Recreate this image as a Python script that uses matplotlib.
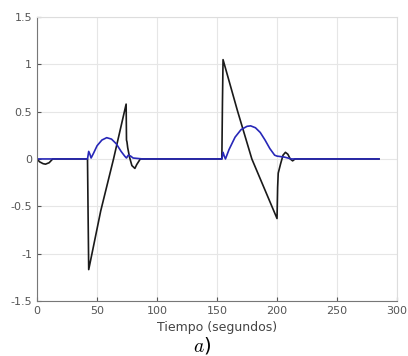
import numpy as np
import matplotlib.pyplot as plt
from matplotlib.ticker import MultipleLocator

# curva negra
t_negro = [0, 2, 5, 7, 10, 13, 42, 42.5, 43, 53, 63.7, 74.2, 74.5, 74.9, 75.5, 77, 79, 81.5, 83, 86, 154,
           154.5, 155, 167, 179, 200, 200.5, 201, 203, 205, 207, 209, 211, 213, 215, 285]
y_negro = [0, -0.03, -0.05, -0.055, -0.04, 0, 0, -0.6, -1.17, -0.55, 0.0, 0.58, 0.2, 0.18, 0.12,
           0.02, -0.07, -0.1, -0.06, 0, 0, 0.6, 1.05, 0.51, 0.0, -0.63, -0.3, -0.15, -0.05, 0.04,
           0.07, 0.05, 0.0, -0.02, 0, 0]

# curva azul
t_azul = [0, 42, 43, 44, 45, 47, 50, 54, 58, 62, 66, 70, 73, 74.5, 76, 78, 80, 88, 154, 155, 156, 157, 160,
          165, 170, 175, 178, 182, 186, 190, 194, 198, 200, 203, 206, 209, 212, 285]
y_azul = [0, 0, 0.08, 0.05, 0.01, 0.06, 0.14, 0.2, 0.225, 0.21, 0.16, 0.08, 0.03, 0.01, 0.04, 0.03, 0.01,
          0, 0, 0.07, 0.03, 0.0, 0.1, 0.23, 0.31, 0.345, 0.35, 0.33, 0.28, 0.2, 0.11, 0.04, 0.03, 0.025,
          0.02, 0.01, 0, 0]

fig = plt.figure(figsize=(4.08, 3.56), dpi=100)
ax = fig.add_axes([0.091, 0.155, 0.882, 0.797])

ax.plot(t_negro, y_negro, color="#1a1a1a", linewidth=1.2)
ax.plot(t_azul, y_azul, color="#2727b8", linewidth=1.2)

ax.set_xlim(0, 300)
ax.set_ylim(-1.5, 1.5)
ax.xaxis.set_major_locator(MultipleLocator(50))
ax.set_yticks([-1.5, -1, -0.5, 0, 0.5, 1, 1.5])
ax.set_yticklabels(["-1.5", "-1", "-0.5", "0", "0.5", "1", "1.5"])

ax.grid(True, color="#e6e6e6", linewidth=0.8)
ax.set_axisbelow(True)
ax.tick_params(direction="in", labelsize=8, colors="#555555", length=3)
for s in ["left", "bottom"]:
    ax.spines[s].set_color("#777777")
for s in ["top", "right"]:
    ax.spines[s].set_color("#dddddd")

ax.set_xlabel("Tiempo (segundos)", fontsize=9, color="#444444", labelpad=4)

plt.rcParams["mathtext.fontset"] = "cm"
fig.text(0.495, 0.0, "$a$)", fontsize=14, ha="center", va="bottom")

fig.savefig("out.png", dpi=100)
plt.close()
